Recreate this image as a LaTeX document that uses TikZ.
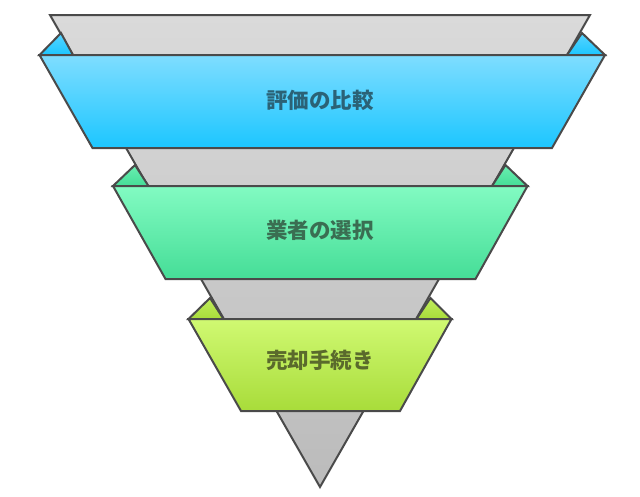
\documentclass[tikz,border=0pt]{standalone}
\usepackage{fontspec}
\newfontfamily\jpfont{Noto Sans CJK JP}
\definecolor{edge}{HTML}{4A4A4A}
\definecolor{funtop}{HTML}{DADADA}
\definecolor{funbot}{HTML}{BBBBBB}
\definecolor{blueA}{HTML}{7FDDFF}
\definecolor{blueB}{HTML}{1CC6FF}
\definecolor{blueT}{HTML}{2B6276}
\definecolor{greenA}{HTML}{82FBC2}
\definecolor{greenB}{HTML}{45DD97}
\definecolor{greenT}{HTML}{3A6E52}
\definecolor{limeA}{HTML}{D0F972}
\definecolor{limeB}{HTML}{A8DC3A}
\definecolor{limeT}{HTML}{5A6A2C}
\tikzset{
  outline/.style={draw=edge, line width=2pt},
  label/.style={font=\jpfont\bfseries\fontsize{21.5}{24}\selectfont, inner sep=0pt}
}
\begin{document}
\begin{tikzpicture}[x=1pt, y=-1pt]
\useasboundingbox (0,0) rectangle (640,496);
% funnel
\coordinate (F_0_0) at (50,15);
\coordinate (F_0_1) at (590,15);
\coordinate (F_1_0) at (320,487);
\draw[outline, top color=funtop, bottom color=funbot] (F_0_0) -- (F_0_1) -- (F_1_0) -- cycle;
% first band
\coordinate (B_0_0) at (39.5,55);
\coordinate (B_0_1) at (605,55);
\coordinate (B_0_2) at (552,148);
\coordinate (B_0_3) at (92.5,148);
\draw[outline, top color=blueA!60!blueB, bottom color=blueB] (B_0_0) -- (61,33) -- (73,55) -- cycle;
\draw[outline, top color=blueA!60!blueB, bottom color=blueB] (B_0_1) -- (582,33) -- (567,55) -- cycle;
\draw[outline, top color=blueA, bottom color=blueB] (B_0_0) -- (B_0_1) -- (B_0_2) -- (B_0_3) -- cycle;
\node[label, text=blueT] (L_0) at (320,100.5) {評価の比較};
% second band
\coordinate (B_1_0) at (113,186);
\coordinate (B_1_1) at (527.5,186);
\coordinate (B_1_2) at (475.5,279);
\coordinate (B_1_3) at (165.5,279);
\draw[outline, top color=greenA!60!greenB, bottom color=greenB] (B_1_0) -- (135,165) -- (148.5,186) -- cycle;
\draw[outline, top color=greenA!60!greenB, bottom color=greenB] (B_1_1) -- (505.5,165) -- (492,186) -- cycle;
\draw[outline, top color=greenA, bottom color=greenB] (B_1_0) -- (B_1_1) -- (B_1_2) -- (B_1_3) -- cycle;
\node[label, text=greenT] (L_1) at (320,230.5) {業者の選択};
% third band
\coordinate (B_2_0) at (188.5,319);
\coordinate (B_2_1) at (451.5,319);
\coordinate (B_2_2) at (400,411);
\coordinate (B_2_3) at (241,411);
\draw[outline, top color=limeA!60!limeB, bottom color=limeB] (B_2_0) -- (210,298) -- (223.5,319) -- cycle;
\draw[outline, top color=limeA!60!limeB, bottom color=limeB] (B_2_1) -- (430.5,298) -- (416.5,319) -- cycle;
\draw[outline, top color=limeA, bottom color=limeB] (B_2_0) -- (B_2_1) -- (B_2_2) -- (B_2_3) -- cycle;
\node[label, text=limeT] (L_2) at (320,360.5) {売却手続き};
\end{tikzpicture}
\end{document}
